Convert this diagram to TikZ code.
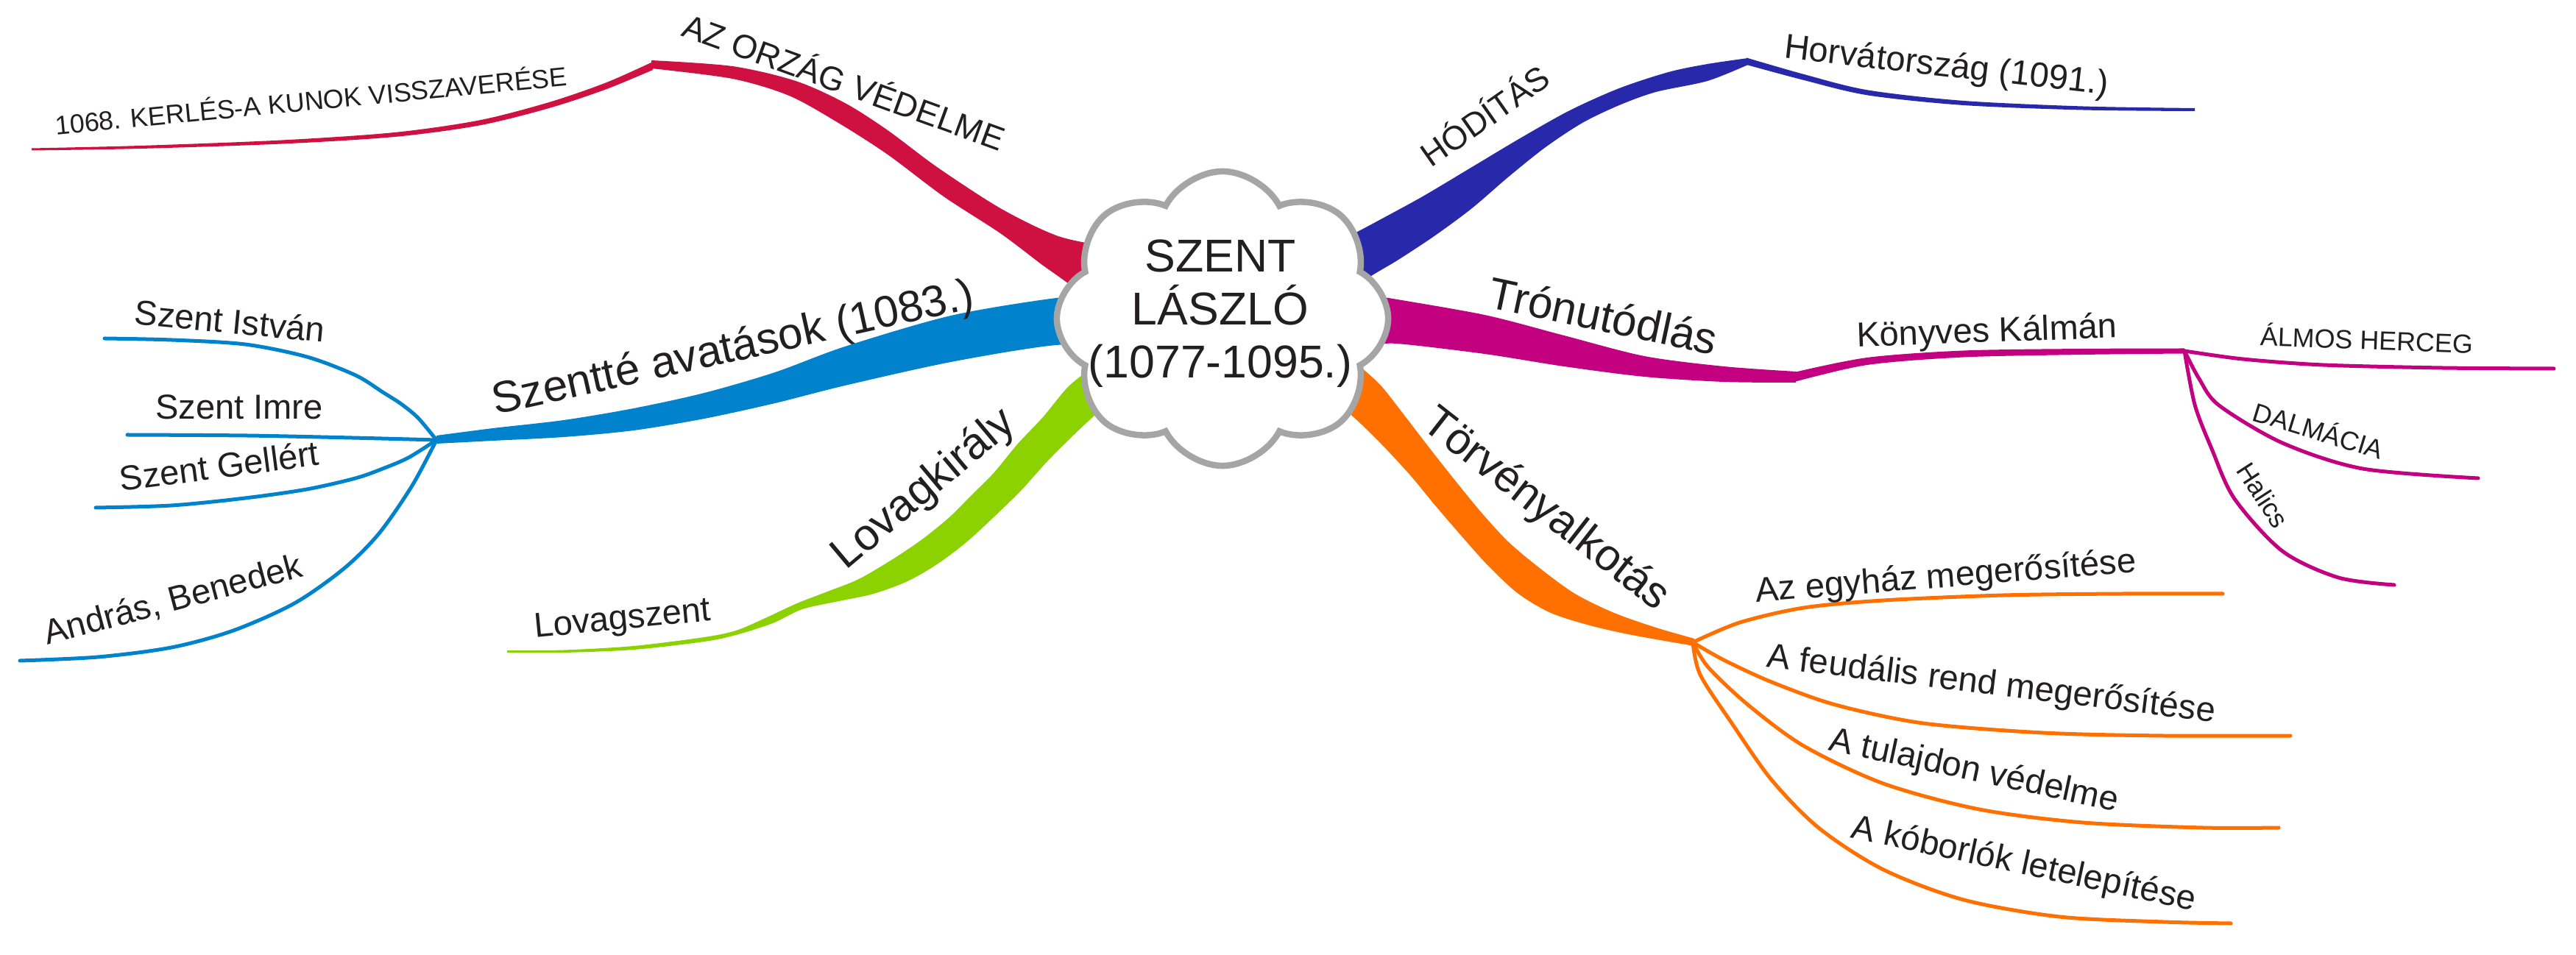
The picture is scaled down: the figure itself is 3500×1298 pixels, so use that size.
\documentclass[tikz,border=0pt]{standalone}
\usepackage{fontspec}
\setmainfont{Liberation Sans}
\usetikzlibrary{shapes.symbols}
\definecolor{cRed}{RGB}{206,17,65}
\definecolor{cNavy}{RGB}{40,40,170}
\definecolor{cBlue}{RGB}{0,130,204}
\definecolor{cGreen}{RGB}{140,210,0}
\definecolor{cMag}{RGB}{194,0,128}
\definecolor{cOrange}{RGB}{255,112,0}
\definecolor{txtc}{RGB}{35,31,32}
\definecolor{cloudline}{RGB}{165,165,165}
\definecolor{cloudgray}{RGB}{190,190,190}
\definecolor{cloudmid}{RGB}{240,240,240}
\pgfdeclareradialshading{cloudshade}{\pgfpoint{0bp}{0bp}}{color(0bp)=(white); color(26bp)=(white); color(38bp)=(cloudmid); color(50bp)=(cloudgray)}
\tikzset{
  lbl/.style={inner sep=0pt, outer sep=0pt, anchor=base, text=txtc},
  mainlbl/.style={lbl, font=\fontsize{17.1pt}{20pt}\selectfont},
  sublbl/.style={lbl, font=\fontsize{13.4pt}{16pt}\selectfont},
  caplbl/.style={lbl, font=\fontsize{12.9pt}{15pt}\selectfont},
  smalllbl/.style={lbl, font=\fontsize{10.2pt}{12pt}\selectfont},
  twig/.style={line width=0.5mm, line cap=round, line join=round},
}
\begin{document}
\begin{tikzpicture}[x=0.01cm,y=-0.01cm]
\fill[white] (0,0) rectangle (3500,1298);
\useasboundingbox (0,0) rectangle (3500,1298);

% named junction points
\coordinate (redPeak) at (885,88);
\coordinate (bhub) at (593,598);
\coordinate (istvanEnd) at (142,460);
\coordinate (imreEnd) at (173,591);
\coordinate (gellertEnd) at (130,690);
\coordinate (andrasEnd) at (27,898);
\coordinate (hodPeak) at (2375,83);
\coordinate (mj) at (2968,477);
\coordinate (almosEnd) at (3470,501);
\coordinate (dalmEnd) at (3367,650);
\coordinate (halicsEnd) at (3253,795);
\coordinate (ohub) at (2300,873);
\coordinate (egyEnd) at (3020,807);
\coordinate (feudEnd) at (3112,1000);
\coordinate (tulEnd) at (3096,1125);
\coordinate (kobEnd) at (3031,1255);

% ---------- red: AZ ORZÁG VÉDELME ----------
\fill[cRed] plot[smooth] coordinates {(885,82) (995,90) (1081,110) (1148,140) (1206,177) (1273,227) (1359,283) (1435,320) (1500,335) (1560,350)}
  -- plot[smooth] coordinates {(1500,420) (1440,377) (1416,360) (1359,317) (1282,267) (1206,210) (1139,167) (1072,130) (995,107) (885,93)} -- cycle;
\fill[cRed] plot[smooth] coordinates {(887,84) (823,112.5) (746,139) (651,163.5) (536,180) (383,190.5) (191,198) (43,201.5)}
  -- plot[smooth] coordinates {(43,204.5) (191,202) (383,195.5) (536,186) (651,170.5) (746,147) (823,121.5) (887,95)} -- cycle;

% ---------- blue: Szentté avatások ----------
\fill[cBlue] plot[smooth] coordinates {(1520,400) (1435,405) (1292,429) (1148,471) (1053,506) (957,534) (861,555) (766,571) (670,582) (593,592)}
  -- plot[smooth] coordinates {(593,603) (670,599) (766,594) (861,585) (957,569) (1053,548) (1148,524) (1292,492) (1435,469) (1520,472)} -- cycle;
\draw[twig,cBlue] plot[smooth] coordinates {(bhub) (568,568) (545,549) (520,533) (483,510) (417,485) (333,468) (233,462) (istvanEnd)};
\draw[twig,cBlue] plot[smooth] coordinates {(bhub) (478,595) (335,592) (imreEnd)};
\draw[twig,cBlue] plot[smooth] coordinates {(bhub) (555,622) (520,637) (483,650) (417,665) (333,677) (233,687) (gellertEnd)};
\draw[twig,cBlue] plot[smooth] coordinates {(bhub) (560,660) (515,725) (467,773) (400,820) (317,857) (233,880) (133,893) (andrasEnd)};

% ---------- green: Lovagkirály ----------
\fill[cGreen] plot[smooth] coordinates {(1490,495) (1452,525) (1417,567) (1383,603) (1350,643) (1320,673) (1290,703) (1253,733) (1213,760) (1167,787) (1127,803) (1083,820) (1040,840) (1000,857) (957,866) (861,878) (766,883.5) (689,884)}
  -- plot[smooth] coordinates {(689,887) (766,887) (861,883) (957,872) (1000,863) (1050,847) (1090,828) (1140,817) (1187,807) (1233,790) (1273,767) (1313,737) (1350,703) (1387,667) (1423,627) (1460,590) (1497,555) (1530,520)} -- cycle;

% ---------- navy: HÓDÍTÁS ----------
\fill[cNavy] plot[smooth] coordinates {(1790,350) (1813,332) (1867,303) (1933,267) (2000,227) (2067,187) (2133,150) (2200,120) (2267,98) (2320,87) (2375,79)}
  -- plot[smooth] coordinates {(2375,88) (2320,110) (2250,125) (2200,143) (2150,167) (2100,200) (2050,240) (2000,283) (1950,320) (1900,353) (1860,377) (1830,400)} -- cycle;
\fill[cNavy] plot[smooth] coordinates {(2373,78.5) (2451,101) (2538,122.5) (2668,137) (2830,144.5) (2982,147)}
  -- plot[smooth] coordinates {(2982,151) (2830,149.5) (2668,143) (2538,129.5) (2451,109) (2373,88)} -- cycle;

% ---------- magenta: Trónutódlás ----------
\fill[cMag] plot[smooth] coordinates {(1860,400) (1881,404) (2017,428) (2125,456) (2234,484) (2342,498) (2440,505)}
  -- plot[smooth] coordinates {(2440,520) (2342,519) (2234,512) (2125,498) (2017,481) (1898,467) (1870,470)} -- cycle;
\fill[cMag] plot[smooth] coordinates {(2438,506) (2537,486) (2668,476.5) (2830,474) (2968,473.5)}
  -- plot[smooth] coordinates {(2968,480.5) (2830,482) (2668,485.5) (2537,496) (2438,519)} -- cycle;
\draw[twig,cMag] plot[smooth] coordinates {(mj) (3047,488) (3156,496) (3318,500) (almosEnd)};
\draw[twig,cMag] plot[smooth] coordinates {(mj) (2988,515) (3015,551) (3101,602) (3210,637) (dalmEnd)};
\draw[twig,cMag] plot[smooth] coordinates {(mj) (2982,550) (3005,610) (3036,678) (3101,749) (3177,785) (halicsEnd)};

% ---------- orange: Törvényalkotás ----------
\fill[cOrange] plot[smooth] coordinates {(1850,500) (1877,525) (1910,567) (1943,610) (1977,653) (2013,697) (2050,737) (2093,773) (2140,807) (2193,833) (2250,853) (2302,868)}
  -- plot[smooth] coordinates {(2302,878) (2217,863) (2160,850) (2107,833) (2063,807) (2023,770) (1987,730) (1950,687) (1917,647) (1883,610) (1850,577) (1817,547) (1790,520)} -- cycle;
\draw[twig,cOrange] plot[smooth] coordinates {(ohub) (2364,846) (2451,826) (2559,816) (2722,809) (2885,807) (egyEnd)};
\draw[twig,cOrange] plot[smooth] coordinates {(ohub) (2342,897) (2407,927) (2494,958) (2613,983) (2776,996) (2939,1000) (feudEnd)};
\draw[twig,cOrange] plot[smooth] coordinates {(ohub) (2321,907) (2375,958) (2451,1014) (2559,1065) (2689,1100) (2830,1118) (2993,1125) (tulEnd)};
\draw[twig,cOrange] plot[smooth] coordinates {(ohub) (2310,917) (2353,983) (2407,1060) (2472,1126) (2559,1182) (2668,1223) (2798,1246) (2939,1253) (kobEnd)};

% ---------- central cloud ----------
\node[cloud, cloud puffs=8, cloud puff arc=125, cloud ignores aspect,
      minimum width=4.5cm, minimum height=4.0cm, inner sep=0pt,
      draw=cloudline, line width=0.85mm, shade, shading=cloudshade] (root) at (1661,433) {};
\node[text=txtc, align=center, inner sep=0pt, font=\fontsize{17.8pt}{20.5pt}\selectfont] (roottext) at (1658,426) {SZENT\\LÁSZLÓ\\(1077-1095.)};

% ---------- labels ----------
\node[caplbl, rotate=-20] (tOrszag) at (1141,127) {AZ ORZÁG VÉDELME};
\node[smalllbl, rotate=5.5] (tKerles) at (424,150) {1068. KERLÉS-A KUNOK VISSZAVERÉSE};

\node[mainlbl, rotate=12.6] (tSzentte) at (1000,491) {Szentté avatások (1083.)};
\node[sublbl, rotate=-5.5] (tIstvan) at (311,453) {Szent István};
\node[sublbl] (tImre) at (325,570) {Szent Imre};
\node[sublbl, rotate=7.5] (tGellert) at (300,650) {Szent Gellért};
\node[sublbl, rotate=15] (tAndras) at (239,830) {András, Benedek};

\node[mainlbl, rotate=40] (tLovag) at (1266,678) {Lovagkirály};
\node[sublbl, rotate=5.5] (tLovagszent) at (847,855) {Lovagszent};

\node[caplbl, rotate=35] (tHod) at (2027,171) {HÓDÍTÁS};
\node[sublbl, rotate=-6.5] (tHorv) at (2643,104) {Horvátország (1091.)};

\node[mainlbl, rotate=-12] (tTron) at (2174,450) {Trónutódlás};
\node[sublbl, rotate=2] (tKonyves) at (2700,465) {Könyves Kálmán};
\node[smalllbl, rotate=-2] (tAlmos) at (3215,475) {ÁLMOS HERCEG};
\node[smalllbl, rotate=-17] (tDalm) at (3146,598) {DALMÁCIA};
\node[smalllbl, rotate=-57] (tHalics) at (3064,680) {Halics};

\node[mainlbl, rotate=-38] (tTorv) at (2090,706) {Törvényalkotás};
\node[sublbl, rotate=4.5] (tEgyhaz) at (2645,798) {Az egyház megerősítése};
\node[sublbl, rotate=-7] (tFeud) at (2704,944) {A feudális rend megerősítése};
\node[sublbl, rotate=-12] (tTulaj) at (2679,1061) {A tulajdon védelme};
\node[sublbl, rotate=-12] (tKobor) at (2747,1188) {A kóborlók letelepítése};
\end{tikzpicture}
\end{document}
